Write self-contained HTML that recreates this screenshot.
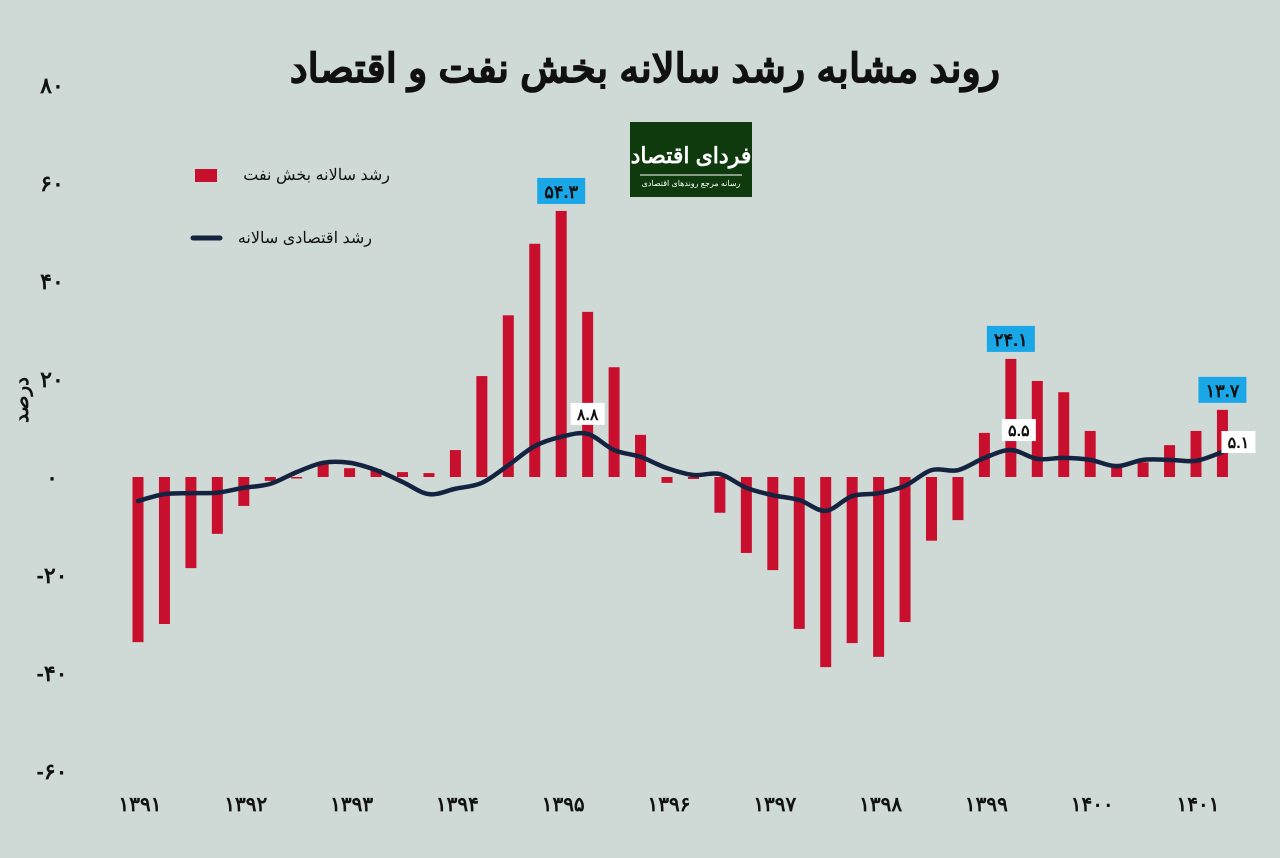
<!DOCTYPE html>
<html><head><meta charset="utf-8"><style>
html,body{margin:0;padding:0;background:#cfd9d6;}
svg{display:block;font-family:"Liberation Sans","Noto Sans CJK SC",sans-serif;}
</style></head><body>
<svg id="c" width="1280" height="858">
<rect width="1280" height="858" fill="#cfd9d6"/>
<text x="645" y="82" text-anchor="middle" font-size="40" font-weight="900" fill="#111" stroke="#111" stroke-width="0.8">روند مشابه رشد سالانه بخش نفت و اقتصاد</text>
<g>
<rect x="630" y="122" width="122" height="75" fill="#0e3a0e"/>
<text x="691" y="163" text-anchor="middle" font-size="22" font-weight="bold" fill="#fff">فردای اقتصاد</text>
<line x1="640" y1="175" x2="742" y2="175" stroke="#fff" stroke-width="1"/>
<text x="691" y="186" text-anchor="middle" font-size="8" fill="#fff">رسانه مرجع روندهای اقتصادی</text>
</g>
<g>
<rect x="195" y="169" width="22" height="13" fill="#c8102e"/>
<text x="390" y="180" text-anchor="end" font-size="16" fill="#111">رشد سالانه بخش نفت</text>
<line x1="193" y1="238" x2="220" y2="238" stroke="#14233f" stroke-width="5" stroke-linecap="round"/>
<text x="372" y="243" text-anchor="end" font-size="16" fill="#111">رشد اقتصادی سالانه</text>
</g>
<text transform="translate(28,400) rotate(-90)" text-anchor="middle" font-size="20" font-weight="bold" fill="#111">درصد</text>
<g id="yt"></g><g id="bars"></g><g id="xt"></g><g id="line"></g><g id="lbl"></g>
</svg>
<script>
const yTicks=[80,60,40,20,0,-20,-40,-60];
const yTickLabels=["۸۰","۶۰","۴۰","۲۰","۰","-۲۰","-۴۰","-۶۰"];
const years=["۱۳۹۱","۱۳۹۲","۱۳۹۳","۱۳۹۴","۱۳۹۵","۱۳۹۶","۱۳۹۷","۱۳۹۸","۱۳۹۹","۱۴۰۰","۱۴۰۱"];
const oilGrowth=[-33.7,-30,-18.6,-11.6,-5.9,-0.8,-0.3,2.9,1.8,1.6,1.0,0.8,5.5,20.6,33,47.6,54.3,33.7,22.4,8.6,-1.2,-0.4,-7.3,-15.5,-19,-31,-38.8,-33.9,-36.7,-29.6,-13,-8.8,9,24.1,19.6,17.3,9.4,2.7,3,6.5,9.4,13.7];
const econGrowth=[-4.9,-3.5,-3.3,-3.2,-2.2,-1.4,1,2.9,2.9,1.4,-1,-3.5,-2.4,-1.2,2.4,6.3,8.2,8.8,5.5,4.1,1.8,0.4,0.6,-2.2,-3.7,-4.7,-6.9,-3.9,-3.3,-1.8,1.4,1.4,3.9,5.5,3.7,3.9,3.5,2.2,3.5,3.5,3.3,5.1];
const oilCallouts=[[16,"۵۴.۳"],[33,"۲۴.۱"],[41,"۱۳.۷"]];
const econCallouts=[[17,"۸.۸"],[33,"۵.۵"],[41,"۵.۱"]];
const NS="http://www.w3.org/2000/svg";
const y=v=>477-v*4.9;
const x=i=>138+i*26.45;
function mk(t,a,p){const e=document.createElementNS(NS,t);for(const k in a)e.setAttribute(k,a[k]);p.appendChild(e);return e;}
const yt=document.getElementById('yt');
yTicks.forEach((v,i)=>{const t=mk('text',{x:52,y:y(v)+8,'text-anchor':'middle','font-size':22,'font-weight':'bold',fill:'#111'},yt);t.textContent=yTickLabels[i];

});
const xt=document.getElementById('xt');
years.forEach((s,i)=>{const t=mk('text',{x:x(i*4)+2,y:811,'text-anchor':'middle','font-size':20,'font-weight':'bold',fill:'#111'},xt);t.textContent=s;

});
const bg=document.getElementById('bars');
oilGrowth.forEach((v,i)=>{const r=mk('rect',{x:x(i)-5.5,width:11,y:Math.min(y(v),y(0)),height:Math.abs(y(v)-y(0)),fill:'#c8102e'},bg);

});
const pts=econGrowth.map((v,i)=>[x(i),y(v)]);
let d=`M${pts[0][0]},${pts[0][1]}`;
for(let i=0;i<pts.length-1;i++){const p0=pts[Math.max(0,i-1)],p1=pts[i],p2=pts[i+1],p3=pts[Math.min(pts.length-1,i+2)];
d+=` C${p1[0]+(p2[0]-p0[0])/6},${p1[1]+(p2[1]-p0[1])/6} ${p2[0]-(p3[0]-p1[0])/6},${p2[1]-(p3[1]-p1[1])/6} ${p2[0]},${p2[1]}`;}
const ln=mk('path',{d:d,fill:'none',stroke:'#14233f','stroke-width':4.5,'stroke-linecap':'round'},document.getElementById('line'));


const lg=document.getElementById('lbl');
oilCallouts.forEach(([i,s])=>{const cx=x(i),cy=y(oilGrowth[i])-20;
const g=mk('g',{},lg);


mk('rect',{x:cx-24,y:cy-13,width:48,height:26,fill:'#1aa7e8'},g);
const t=mk('text',{x:cx,y:cy+7,'text-anchor':'middle','font-size':18,'font-weight':'bold',fill:'#111'},g);t.textContent=s;});
econCallouts.forEach(([i,s],k)=>{const cx=x(i)+(k===0?0:k===1?8:16),cy=y(econGrowth[i])-(k===2?10:20);
const g=mk('g',{},lg);


mk('rect',{x:cx-17,y:cy-11,width:34,height:22,fill:'#fff'},g);
const t=mk('text',{x:cx,y:cy+6,'text-anchor':'middle','font-size':16,'font-weight':'bold',fill:'#111'},g);t.textContent=s;});
</script>
</body></html>
